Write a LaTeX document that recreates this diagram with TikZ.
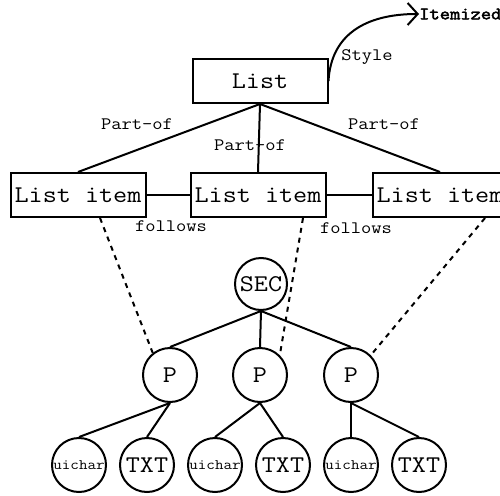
\documentclass[tikz,border=0pt]{standalone}
\usepackage{fontspec}
\setmonofont{Latin Modern Mono}[FakeStretch=1.14]
\newfontfamily\boldmono{Latin Modern Mono}[FakeStretch=1.14,FakeBold=2.5]
\usetikzlibrary{arrows.meta,calc}
\begin{document}
\begin{tikzpicture}[x=1pt,y=-1pt,
  every node/.append style={font=\ttfamily},
  boxnode/.style={draw,line width=2pt,minimum width=135pt,minimum height=44pt,inner sep=0pt,font=\ttfamily\fontsize{24}{26}\selectfont,fill=white},
  bignode/.style={draw,circle,line width=2pt,minimum size=54pt,inner sep=0pt,font=\ttfamily\fontsize{24}{26}\selectfont},
  smallnode/.style={draw,circle,line width=2pt,minimum size=54pt,inner sep=0pt,font=\ttfamily\fontsize{14.5}{16}\selectfont},
  lbl/.style={font=\ttfamily\fontsize{17.5}{19}\selectfont,inner sep=0pt},
  link/.style={line width=2pt},
  dlink/.style={line width=2pt,dash pattern=on 5pt off 5pt}]
\useasboundingbox (0,0) rectangle (500,495);
% top
\node[boxnode] (list) at (260,81) {List};
\node[lbl,anchor=west,font=\boldmono\fontsize{17.5}{19}\selectfont] (item) at (419,14) {Itemized};
\draw[link,-{Straight Barb[length=10pt,width=22pt,line width=2pt]}] (list.east) .. controls (331,35) and (365,14) .. (item.west);
\node[lbl] (style) at (367,57) {Style};
% list items
\node[boxnode] (li1) at (78,195) {List item};
\node[boxnode] (li2) at (258,195) {List item};
\node[boxnode] (li3) at (440,195) {List item};
\draw[link] (list.south) -- (li1.north);
\draw[link] (list.south) -- (li2.north);
\draw[link] (list.south) -- (li3.north);
\node[lbl] (po1) at (137,124) {Part-of};
\node[lbl] (po2) at (250,145) {Part-of};
\node[lbl] (po3) at (384,124) {Part-of};
\draw[link] (li1.east) -- (li2.west);
\draw[link] (li2.east) -- (li3.west);
\node[lbl] (f1) at (171,226) {follows};
\node[lbl] (f2) at (356,228) {follows};
% tree
\node[bignode,minimum size=52pt] (sec) at (261,284) {SEC};
\node[bignode] (p1) at (170,375) {P};
\node[bignode] (p2) at (260,375) {P};
\node[bignode] (p3) at (351,375) {P};
\foreach \p in {p1,p2,p3} \draw[link] (sec.south) -- (\p.north);
\node[smallnode] (u1) at (79,465) {uichar};
\node[bignode] (t1) at (147,465) {TXT};
\node[smallnode] (u2) at (215,465) {uichar};
\node[bignode] (t2) at (283,465) {TXT};
\node[smallnode] (u3) at (351,465) {uichar};
\node[bignode] (t3) at (419,465) {TXT};
\draw[link] (p1.south) -- (u1.north);
\draw[link] (p1.south) -- (t1.north);
\draw[link] (p2.south) -- (u2.north);
\draw[link] (p2.south) -- (t2.north);
\draw[link] (p3.south) -- (u3.north);
\draw[link] (p3.south) -- (t3.north);
% dashed
\draw[dlink] ([xshift=22pt]li1.south) -- (p1.128);
\draw[dlink] ([xshift=45pt]li2.south) -- (p2.45);
\draw[dlink] ([xshift=45pt]li3.south) -- (p3.45);
\end{tikzpicture}
\end{document}
